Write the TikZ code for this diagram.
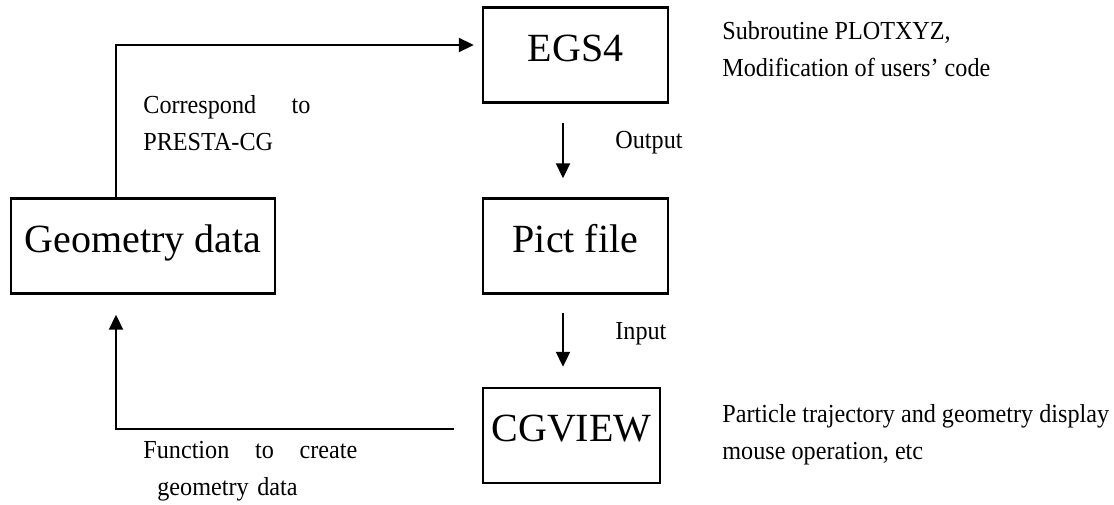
\documentclass[tikz,border=0pt]{standalone}
\usepackage{fontspec}
\setmainfont{Liberation Serif}
\newfontfamily\notefont{Liberation Serif}[FakeStretch=0.93]
\usepackage{tikz}
\usetikzlibrary{positioning, arrows.meta, calc}
\tikzset{
    base/.style={
        font=\notefont\fontsize{13}{18.5}\selectfont,
        inner sep=0pt
    },
    block/.style={
        rectangle,
        draw,
        line width=1.2pt,
        font=\fontsize{20}{24}\selectfont,
        text height=14pt,
        text depth=8pt,
        minimum height=47.5pt,
        inner sep=2pt
    },
    flow/.style={
        -{Triangle[length=7.5pt, width=7pt]},
        line width=1pt
    },
    note/.style={
        base,
        anchor=west,
        align=left
    }
}

\begin{document}
\begin{tikzpicture}[x=0.5pt, y=-0.5pt]
  \useasboundingbox (0,0) rectangle (1114,504);

  % Blocks
  \node[block, minimum width=92.5pt] (egs) at (575.5,55) {EGS4};
  \node[block, minimum width=92.5pt] (pict) at (575.5,246) {Pict file};
  \node[block, minimum width=88.5pt] (cg) at (571.5,435.5) {CGVIEW};
  \node[block, minimum width=132pt] (geo) at (143,246) {Geometry data};

  % Flow
  \draw[flow, shorten >=4pt] ([xshift=-13.5pt]geo.north) |- ([yshift=5pt]egs.west);
  \draw[flow, shorten <=9.5pt, shorten >=9.5pt] ([xshift=-6.25pt]egs.south) -- ([xshift=-6.25pt]pict.north);
  \draw[flow, shorten <=9pt, shorten >=10pt] ([xshift=-6.25pt]pict.south) -- ([xshift=-6.25pt]pict.south |- cg.north);
  \draw[flow, shorten <=14pt, shorten >=10pt] ([yshift=3.5pt]cg.west) -| ([xshift=-13.5pt]geo.south);

  % Labels
  \node[note] (outlbl) at (615,143) {Output};
  \node[note] (inlbl) at (615,334) {Input};
  \node[note, text width=83.5pt] (corr) at (143,123.5) {Correspond\hfill to\\PRESTA-CG};
  \node[note, text width=107pt] (func) at (143,471) {Function\hfill to\hfill create\\\hspace*{7pt}geometry data};
  \node[note] (subr) at (722,49) {Subroutine PLOTXYZ,\\Modification of users’ code};
  \node[note] (disp) at (722,435) {Particle trajectory and geometry display\\mouse operation, etc};
\end{tikzpicture}
\end{document}
